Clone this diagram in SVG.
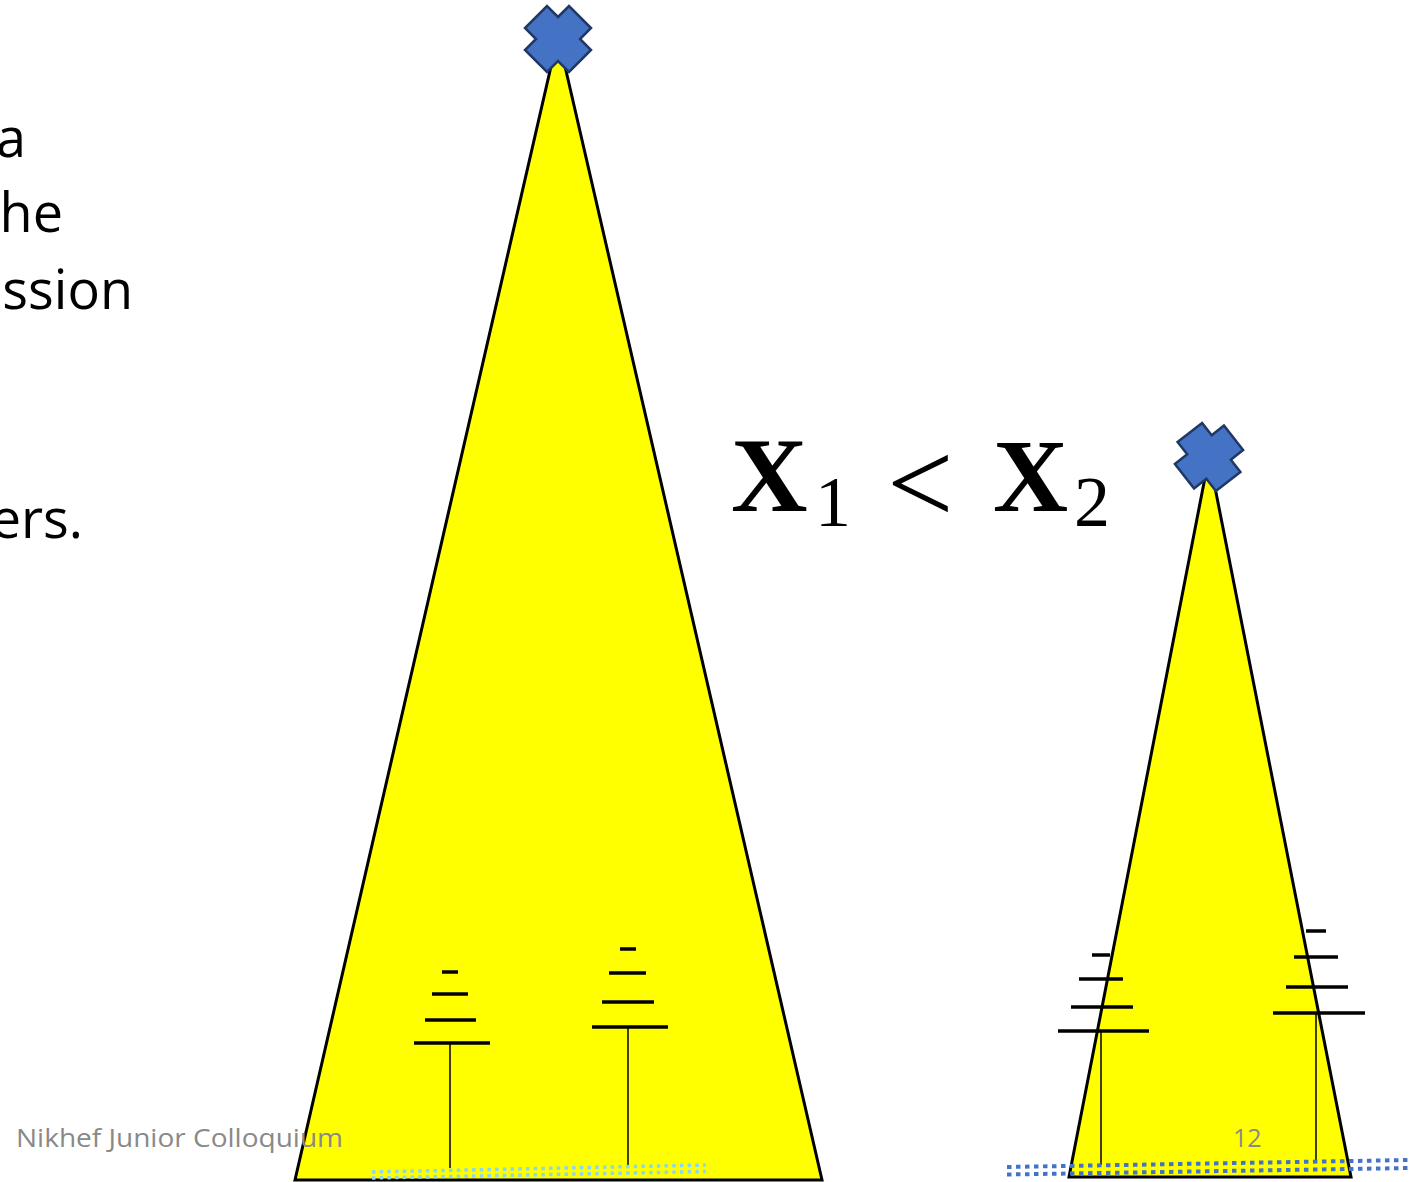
<svg xmlns="http://www.w3.org/2000/svg" width="1421" height="1182" viewBox="0 0 1421 1182">
<style>
.tri{fill:#FFFF00;stroke:#000;stroke-width:3;stroke-linejoin:miter}
.cross{fill:#4472C4;stroke:#1F3864;stroke-width:2.5;stroke-linejoin:miter}
.bar{stroke:#000;stroke-width:3.5}
.stem{stroke:#000;stroke-width:1.5}
.body{font-family:"Open Sans","Liberation Sans",sans-serif;font-size:54px;fill:#000}
.foot{font-family:"Open Sans","Liberation Sans",sans-serif;font-size:25px;fill:#898989}
.mx{font-family:"Liberation Serif",serif;fill:#000}
.dotc{stroke:#8DD6EE;stroke-width:3.5;stroke-dasharray:3.5 4.2;fill:none}
.dotb{stroke:#4472C4;stroke-width:4;stroke-dasharray:4.5 4.5;fill:none}
</style>
<defs>
<polygon id="xshape" points="0,-22 11,-33 33,-11 22,0 33,11 11,33 0,22 -11,33 -33,11 -22,0 -33,-11 -11,-33"/>
</defs>
<rect width="1421" height="1182" fill="#fff"/>
<g id="text-left">
<text class="body" x="26" y="157" text-anchor="end">a</text>
<text class="body" x="63" y="232" text-anchor="end">he</text>
<text class="body" x="133" y="309" text-anchor="end">ssion</text>
<text class="body" x="83" y="538" text-anchor="end">ers.</text>
</g>
<g id="tree1">
<polygon class="tri" points="558,36 822,1180 295,1180"/>
<g id="t1a">
<line class="stem" x1="450" y1="1043" x2="450" y2="1168"/>
<line class="bar" x1="442" y1="972" x2="458" y2="972"/>
<line class="bar" x1="432" y1="994" x2="468" y2="994"/>
<line class="bar" x1="425" y1="1020" x2="476" y2="1020"/>
<line class="bar" x1="414" y1="1043" x2="490" y2="1043"/>
</g>
<g id="t1b">
<line class="stem" x1="628" y1="1027" x2="628" y2="1165"/>
<line class="bar" x1="620" y1="949" x2="636" y2="949"/>
<line class="bar" x1="609" y1="973" x2="646" y2="973"/>
<line class="bar" x1="602" y1="1002" x2="654" y2="1002"/>
<line class="bar" x1="592" y1="1027" x2="668" y2="1027"/>
</g>
<use href="#xshape" class="cross" transform="translate(558,39)"/>
</g>
<g id="tree2">
<polygon class="tri" points="1209,457 1351,1177 1069,1177"/>
<g id="t2a">
<line class="stem" x1="1101" y1="1031" x2="1101" y2="1165"/>
<line class="bar" x1="1092" y1="955" x2="1110" y2="955"/>
<line class="bar" x1="1079" y1="979" x2="1123" y2="979"/>
<line class="bar" x1="1071" y1="1007" x2="1133" y2="1007"/>
<line class="bar" x1="1058" y1="1031" x2="1149" y2="1031"/>
</g>
<g id="t2b">
<line class="stem" x1="1316" y1="1013" x2="1316" y2="1162"/>
<line class="bar" x1="1306" y1="931" x2="1326" y2="931"/>
<line class="bar" x1="1294" y1="957" x2="1338" y2="957"/>
<line class="bar" x1="1286" y1="987" x2="1348" y2="987"/>
<line class="bar" x1="1273" y1="1013" x2="1365" y2="1013"/>
</g>
<use href="#xshape" class="cross" transform="translate(1209,457) rotate(7)"/>
</g>
<g id="connectors">
<path class="dotc" d="M372,1172 L706,1165"/>
<path class="dotc" d="M372,1178 L706,1171.5"/>
<path class="dotb" d="M1007,1167 L1410,1160"/>
<path class="dotb" d="M1007,1174.5 L1410,1168"/>
</g>
<g id="formula">
<text class="mx" x="731" y="511" font-size="106" font-weight="bold">X</text>
<text class="mx" x="815" y="526" font-size="72">1</text>
<text class="mx" x="887" y="523" font-size="118">&lt;</text>
<text class="mx" x="993" y="511" font-size="104" font-weight="bold">X</text>
<text class="mx" x="1074" y="526" font-size="72">2</text>
</g>
<g id="footer">
<text class="foot" x="16" y="1147" textLength="327" lengthAdjust="spacingAndGlyphs">Nikhef Junior Colloquium</text>
<text class="foot" x="1233" y="1147">12</text>
</g>
</svg>
